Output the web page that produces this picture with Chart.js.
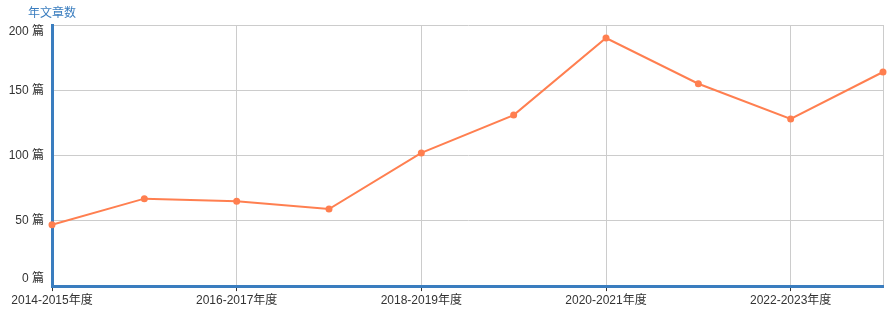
<!DOCTYPE html>
<html>
<head>
<meta charset="utf-8">
<script src="https://cdn.jsdelivr.net/npm/chart.js@4.4.1/dist/chart.umd.min.js"></script>
<style>
  html, body { margin: 0; padding: 0; background: #fff; }
  #wrap { width: 894px; height: 320px; }
</style>
</head>
<body>
<div id="wrap"><canvas id="articleChart"></canvas></div>
<script>
// Articles per academic year
const years = ['2014-2015年度', '2015-2016年度', '2016-2017年度', '2017-2018年度', '2018-2019年度',
               '2019-2020年度', '2020-2021年度', '2021-2022年度', '2022-2023年度', '2023-2024年度'];
const articles = [47, 67, 65, 59, 102, 131, 190, 155, 128, 164];
const yTicks = [0, 50, 100, 150, 200];
const axisName = '年文章数';
const unit = ' 篇';

const blue = '#3a7dbf';
const grey = '#cccccc';
const font = { family: '"Liberation Sans", "Noto Sans CJK SC", sans-serif', size: 12 };

// axis name above the y axis, and y labels kept inside the plot height
const axisNamePlugin = {
  id: 'axisName',
  afterDraw(chart) {
    const ctx = chart.ctx;
    const area = chart.chartArea;
    const y = chart.scales.y;
    ctx.save();
    ctx.font = '12px ' + font.family;
    ctx.textBaseline = 'middle';
    ctx.fillStyle = blue;
    ctx.textAlign = 'center';
    ctx.fillText(axisName, area.left, area.top - 11);
    ctx.fillStyle = '#333';
    ctx.textAlign = 'right';
    for (const v of yTicks) {
      let py = y.getPixelForValue(v);
      py = Math.min(Math.max(py, area.top + 7), area.bottom - 7);
      ctx.fillText(v + unit, area.left - 8, py);
    }
    ctx.restore();
  }
};

Chart.defaults.font = font;
Chart.defaults.color = '#333';

new Chart(document.getElementById('articleChart'), {
  type: 'line',
  data: {
    labels: years,
    datasets: [{
      label: axisName,
      data: articles,
      borderColor: '#ff7f50',
      backgroundColor: '#ff7f50',
      borderWidth: 2,
      pointRadius: 2.5,
      pointHoverRadius: 3,
      tension: 0,
    }],
  },
  options: {
    responsive: true,
    maintainAspectRatio: false,
    animation: false,
    layout: {
      padding: { top: 25, right: 11, bottom: 10.5, left: 0 },
    },
    plugins: {
      legend: { display: false },
      tooltip: { enabled: false },
    },
    scales: {
      x: {
        offset: false,
        border: { color: blue, width: 3 },
        grid: {
          color: c => (c.index % 2 === 0 || c.index === years.length - 1) ? grey : 'transparent',
          tickColor: c => c.index % 2 === 0 ? '#333' : 'transparent',
          tickLength: 5,
        },
        ticks: {
          autoSkip: false,
          maxRotation: 0,
          padding: 2,
          callback: (v, i) => i % 2 === 0 ? years[i] : '',
        },
      },
      y: {
        min: 0,
        max: 200,
        afterBuildTicks: s => { s.ticks = yTicks.map(v => ({ value: v })); },
        afterFit: s => { s.width = 52; },
        border: { color: blue, width: 3 },
        grid: { color: grey, drawTicks: false },
        ticks: { display: false },
      },
    },
  },
  plugins: [axisNamePlugin],
});
</script>
</body>
</html>
